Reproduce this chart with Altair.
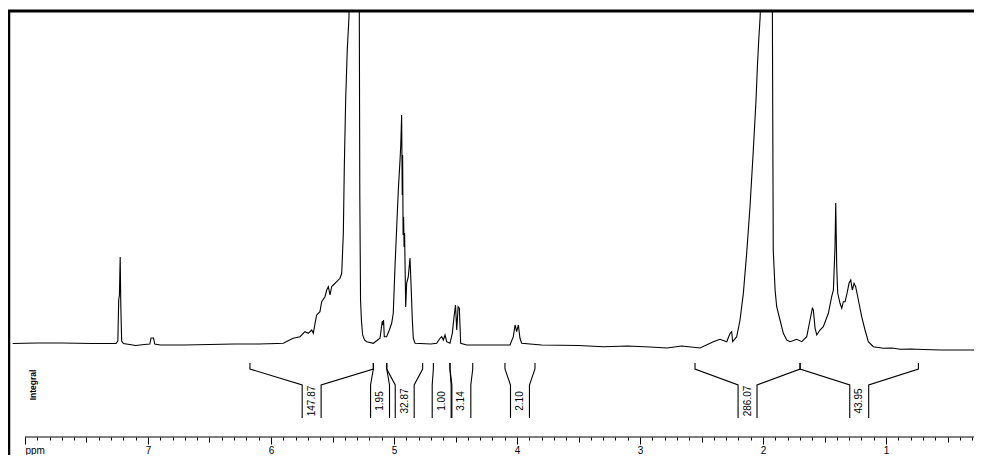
import altair as alt
import pandas as pd

# ---------------- spectrum (chemical shift in ppm, relative intensity) ----------------
spec_ppm = [
    8.10, 7.90, 7.70, 7.45, 7.30, 7.26, 7.245, 7.238, 7.232, 7.226, 7.221, 7.214, 7.20, 7.15, 7.10,
    7.03, 6.985, 6.975, 6.955, 6.945, 6.90, 6.70, 6.50, 6.30, 6.10, 5.95, 5.90, 5.82, 5.764, 5.724,
    5.697, 5.669, 5.656, 5.642, 5.629, 5.602, 5.588, 5.561, 5.547, 5.534, 5.520, 5.507, 5.493, 5.466,
    5.439, 5.425, 5.412, 5.404, 5.393, 5.380, 5.366, 5.345, 5.315, 5.295, 5.282, 5.278, 5.272, 5.265,
    5.255, 5.24, 5.222, 5.168, 5.114, 5.095, 5.09, 5.085, 5.079, 5.060, 5.038, 5.019, 5.006, 4.992,
    4.978, 4.965, 4.951, 4.945, 4.938, 4.933, 4.930, 4.926, 4.922, 4.918, 4.914, 4.905, 4.897, 4.884,
    4.870, 4.862, 4.851, 4.843, 4.829, 4.70, 4.653, 4.626, 4.612, 4.599, 4.585, 4.572, 4.545, 4.526,
    4.512, 4.500, 4.490, 4.479, 4.469, 4.458, 4.409, 4.20, 4.057, 4.030, 4.016, 4.003, 3.989, 3.976,
    3.962, 3.80, 3.50, 3.298, 3.10, 2.919, 2.783, 2.661, 2.512, 2.404, 2.350, 2.295, 2.268, 2.255,
    2.247, 2.214, 2.187, 2.160, 2.133, 2.106, 2.079, 2.057, 2.046, 2.035, 2.024, 2.015, 1.99, 1.96,
    1.935, 1.924, 1.917, 1.902, 1.889, 1.862, 1.835, 1.807, 1.780, 1.726, 1.685, 1.645, 1.618, 1.599,
    1.591, 1.577, 1.563, 1.537, 1.510, 1.469, 1.442, 1.428, 1.415, 1.409, 1.401, 1.393, 1.374, 1.360,
    1.347, 1.333, 1.320, 1.301, 1.287, 1.274, 1.260, 1.247, 1.225, 1.198, 1.171, 1.144, 1.103, 1.022,
    0.95, 0.886, 0.80, 0.70, 0.55, 0.40, 0.28,
]
spec_int = [
    1.5, 2, 2, 1.5, 1.5, 1.5, 4, 45, 50, 88, 40, 4, 1.5, 0.5, -0.5,
    0.5, 1, 7, 7, 1, 0, 0, 0.5, 1, 1, 1.5, 1.7, 6.7, 8.3, 13.3,
    11.7, 15, 11.7, 21.7, 30, 33.3, 43.3, 48.3, 55, 58.3, 50, 58.3, 60, 63.3,
    66.7, 71.7, 111.7, 178, 245, 295, 328, 600, 1200, 700, 330, 150, 45, 25,
    10, 5, 3.3, 1.7, 6.7, 24, 20, 25, 8.3, 8.3, 15, 21.7, 31.7, 78.3,
    118, 155, 185, 200, 230, 150, 190, 110, 128, 98, 112, 38, 62, 68,
    87, 62, 25, 6.7, 1.7, 1, 1.7, 6.7, 8.3, 5, 10, 3.3, 1.7, 11.7,
    28.3, 40, 15, 38.3, 36.7, 1.7, 0, 0, 0, 8.3, 20, 13.3, 20, 6.7,
    1.7, 0, -0.5, -1.7, -1, -2, -3, -1, -3, 3.3, 5.7, 3.3, 11.7, 13.3,
    3.3, 8.3, 25, 51.7, 91.7, 138.3, 195, 245, 278, 305, 327, 360, 480, 650,
    600, 330, 95, 55, 38.3, 25, 11.7, 5, 3.3, 5.7, 3.3, 8.3, 25, 36.7,
    35, 16.7, 10, 15, 18.3, 31.7, 48.3, 55, 98, 142, 78, 52, 41.7, 36.7,
    43.3, 43.3, 50, 61.7, 65, 55, 61.7, 58.3, 45, 28.3, 15, 3.3, -1.7, -3.3,
    -3, -4.3, -4, -4.5, -5, -5, -5,
]

# ---------------- integrals ----------------
integral_labels = ["147.87", "1.95", "32.87", "1.00", "3.14", "2.10", "286.07", "43.95"]
integral_start = [6.171, 5.168, 5.059, 4.680, 4.545, 4.098, 2.553, 1.699]
integral_end = [5.168, 5.059, 4.767, 4.545, 4.360, 3.854, 1.699, 0.737]

# axis ticks every 0.1 ppm from 8.0 down to 0.3
tick_values = [round(8.0 - 0.1 * i, 1) for i in range(78)]

# ---------------- layout constants (in intensity units of the y scale) ----------------
TOP, KINK, INNER, BOTTOM, LABEL_Y, AXIS_Y = -18, -24, -40, -73, -56, -92
HALF_W = 0.077

spec_df = pd.DataFrame({"ppm": spec_ppm, "I": spec_int})

rows = []
for k, (s, e) in enumerate(zip(integral_start, integral_end)):
    c = (s + e) / 2
    left = [(s, TOP), (s, KINK), (c + HALF_W, INNER), (c + HALF_W, BOTTOM)]
    right = [(c - HALF_W, BOTTOM), (c - HALF_W, INNER), (e, KINK), (e, TOP)]
    for side, pts in (("L", left), ("R", right)):
        for i, (p, lv) in enumerate(pts):
            rows.append({"g": f"{k}{side}", "i": i, "ppm": p, "I": lv})
bracket_df = pd.DataFrame(rows)

label_df = pd.DataFrame({
    "ppm": [(s + e) / 2 for s, e in zip(integral_start, integral_end)],
    "I": [LABEL_Y] * len(integral_labels),
    "label": integral_labels,
})

axis_df = pd.DataFrame({"ppm": [8.0], "ppm2": [0.285], "I": [AXIS_Y]})
one_df = pd.DataFrame({"a": [0]})

W, H = 966, 444
int_test = "abs(datum.value - round(datum.value)) < 0.01"
half_test = "abs(datum.value * 2 - round(datum.value * 2)) < 0.01"

xscale = alt.Scale(domain=[0.285, 8.138], reverse=True, nice=False, zero=False)
yscale = alt.Scale(domain=[-110, 334], nice=False, zero=False)

xaxis = alt.Axis(
    values=tick_values,
    domain=False,
    grid=False,
    title=None,
    offset=-18,
    tickColor="black",
    tickWidth=1,
    tickSize={"condition": [{"test": int_test, "value": 7}, {"test": half_test, "value": 5}], "value": 3},
    labelExpr=f"datum.value > 7.95 ? 'ppm' : ({int_test} ? format(datum.value, 'd') : '')",
    labelAlign={"condition": {"test": "datum.value > 7.95", "value": "left"}, "value": "center"},
    labelOverlap=False,
    labelFlush=False,
    labelBound=False,
    labelPadding=1,
    labelFont="Liberation Sans",
    labelFontSize=10,
    labelColor="black",
)

X = alt.X("ppm:Q", scale=xscale, axis=xaxis)
Y = alt.Y("I:Q", scale=yscale, axis=None)

spectrum = alt.Chart(spec_df).mark_line(color="black", strokeWidth=1.1, clip=True).encode(x=X, y=Y)

brackets = alt.Chart(bracket_df).mark_line(color="black", strokeWidth=1.1).encode(
    x=X, y=Y, detail="g:N", order="i:Q"
)

labels = alt.Chart(label_df).mark_text(
    angle=270, font="Liberation Sans", fontSize=10, align="center", baseline="middle", color="black"
).encode(x=X, y=Y, text="label:N")

axis_line = alt.Chart(axis_df).mark_rule(color="black", strokeWidth=1).encode(x=X, x2="ppm2:Q", y=Y)

integral_title = alt.Chart(one_df).mark_text(
    text="Integral", angle=270, font="Liberation Sans", fontSize=8.5, fontWeight="bold",
    align="center", baseline="middle", color="black"
).encode(x=alt.value(25), y=alt.value(374))

frame_left = alt.Chart(one_df).mark_rule(color="black", strokeWidth=2.5).encode(
    x=alt.value(1), y=alt.value(0), y2=alt.value(H)
)
frame_top = alt.Chart(one_df).mark_rule(color="black", strokeWidth=3).encode(
    x=alt.value(0), x2=alt.value(W), y=alt.value(0)
)

chart = alt.layer(
    axis_line, spectrum, brackets, labels, integral_title, frame_left, frame_top
).properties(
    width=W,
    height=H,
    padding={"left": 0, "top": 3, "right": 0, "bottom": 0},
    autosize=alt.AutoSizeParams(type="none"),
    background="white",
).configure_view(stroke=None)

chart.save("out.html", embed_options={"renderer": "svg", "actions": False})
